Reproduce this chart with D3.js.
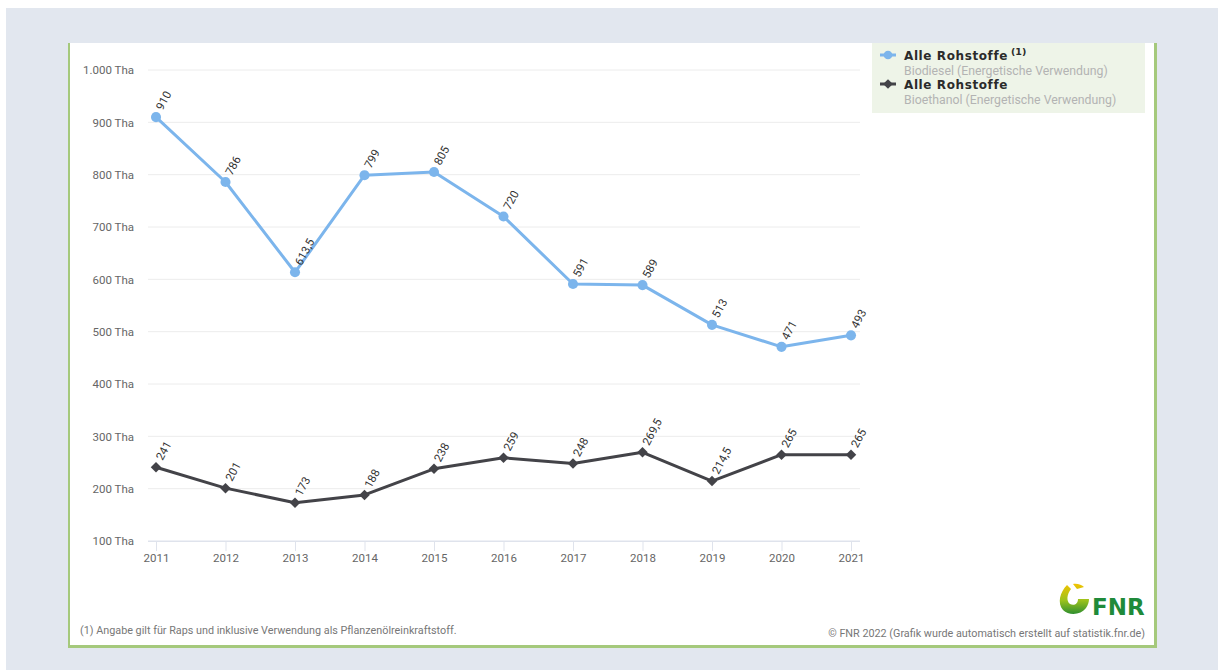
<!DOCTYPE html>
<html>
<head>
<meta charset="utf-8">
<script src="https://cdn.jsdelivr.net/npm/d3@7"></script>
<style>
  html, body { margin: 0; padding: 0; background: #ffffff; }
  svg { display: block; }
</style>
</head>
<body>
<svg id="chart" width="1218" height="670"></svg>
<script>
// Years on the category axis
const years = ["2011","2012","2013","2014","2015","2016","2017","2018","2019","2020","2021"];
// Biodiesel, all raw materials (thousand hectares)
const biodiesel = [910, 786, 613.5, 799, 805, 720, 591, 589, 513, 471, 493];
// Bioethanol, all raw materials (thousand hectares)
const bioethanol = [241, 201, 173, 188, 238, 259, 248, 269.5, 214.5, 265, 265];
// Y-axis tick values
const yTicks = [100, 200, 300, 400, 500, 600, 700, 800, 900, 1000];

const svg = d3.select("#chart");
const W = 1218, H = 670;

// page frame
svg.append("rect").attr("x", 6).attr("y", 8).attr("width", W - 6).attr("height", H - 8).attr("fill", "#e2e7ef");
// card
svg.append("rect").attr("x", 68).attr("y", 43).attr("width", 1089).attr("height", 605).attr("fill", "#ffffff");
svg.append("rect").attr("x", 68).attr("y", 43).attr("width", 2).attr("height", 605).attr("fill", "#a5c97c");
svg.append("rect").attr("x", 1154).attr("y", 43).attr("width", 3).attr("height", 605).attr("fill", "#a5c97c");
svg.append("rect").attr("x", 68).attr("y", 645).attr("width", 1089).attr("height", 3).attr("fill", "#a5c97c");

const de = d3.formatLocale({ decimal: ",", thousands: ".", grouping: [3], currency: ["", "€"] });
const fmtTick = de.format(",");
const fmtVal = v => de.format(",")(v);

const x = d3.scalePoint().domain(years).range([156, 851]);
const y = d3.scaleLinear().domain([100, 1000]).range([541, 70]);

const font = "Roboto, 'Open Sans', sans-serif";

// grid lines
svg.append("g").selectAll("line").data(yTicks).join("line")
  .attr("x1", 148).attr("x2", 860)
  .attr("y1", d => y(d)).attr("y2", d => y(d))
  .attr("stroke", d => d === 100 ? "#dfe3ec" : "#ececec").attr("stroke-width", 1);

// y axis labels
const yAxis = d3.axisLeft(y).tickValues(yTicks).tickSize(0).tickPadding(0)
  .tickFormat(d => fmtTick(d) + " Tha");
svg.append("g").attr("transform", "translate(134,0)").call(yAxis)
  .call(g => g.select(".domain").remove())
  .call(g => g.selectAll("text").attr("fill", "#666").attr("font-family", font).attr("font-size", 11.5));

// x axis with tick marks under each year
const xAxis = d3.axisBottom(x).tickSize(10).tickPadding(3);
svg.append("g").attr("transform", "translate(0,541)").call(xAxis)
  .call(g => g.select(".domain").attr("d", "M148,0.5H860").attr("stroke", "#dfe3ec"))
  .call(g => g.selectAll(".tick line").attr("stroke", "#dfe3ec"))
  .call(g => g.selectAll("text").attr("fill", "#666").attr("font-family", font).attr("font-size", 11.5));

const line = d3.line().x((d, i) => x(years[i])).y(d => y(d));

function drawSeries(values, color, marker) {
  const g = svg.append("g");
  g.append("path").datum(values).attr("d", line)
    .attr("fill", "none").attr("stroke", color).attr("stroke-width", 3)
    .attr("stroke-linejoin", "round");
  const sym = d3.symbol().type(marker === "circle" ? d3.symbolCircle : d3.symbolDiamond2)
    .size(marker === "circle" ? 80 : 70);
  g.selectAll("path.m").data(values).join("path").attr("class", "m")
    .attr("d", sym)
    .attr("transform", (d, i) => `translate(${x(years[i])},${y(d)})`)
    .attr("fill", color);
  g.selectAll("text").data(values).join("text")
    .attr("transform", (d, i) => `translate(${x(years[i]) + 3},${y(d) - 8}) rotate(-62)`)
    .attr("font-family", font).attr("font-size", 11.5).attr("fill", "#333")
    .attr("text-anchor", "start").attr("dy", "0.35em")
    .text(d => fmtVal(d));
}
drawSeries(biodiesel, "#7cb5ec", "circle");
drawSeries(bioethanol, "#434348", "diamond");

// legend
const lg = svg.append("g");
lg.append("rect").attr("x", 872).attr("y", 43).attr("width", 273).attr("height", 70).attr("fill", "#eef4e8");
const legendItems = [
  { color: "#7cb5ec", marker: "circle", title: "Alle Rohstoffe", sup: "(1)", sub: "Biodiesel (Energetische Verwendung)", y: 55 },
  { color: "#434348", marker: "diamond", title: "Alle Rohstoffe", sup: "", sub: "Bioethanol (Energetische Verwendung)", y: 84 }
];
legendItems.forEach(it => {
  lg.append("line").attr("x1", 880).attr("x2", 896).attr("y1", it.y).attr("y2", it.y)
    .attr("stroke", it.color).attr("stroke-width", 3);
  lg.append("path").attr("d", d3.symbol().type(it.marker === "circle" ? d3.symbolCircle : d3.symbolDiamond2).size(60))
    .attr("transform", `translate(888,${it.y})`).attr("fill", it.color);
  lg.append("text").attr("x", 904).attr("y", it.y + 4.5)
    .attr("font-family", "'DejaVu Sans', sans-serif").attr("font-weight", 700)
    .attr("font-size", 12).attr("letter-spacing", 0.6).attr("fill", "#2b2b2b").text(it.title);
  if (it.sup) {
    lg.append("text").attr("x", 1011).attr("y", it.y - 0.5)
      .attr("font-family", "'DejaVu Sans', sans-serif").attr("font-weight", 700)
      .attr("font-size", 9.5).attr("fill", "#2b2b2b").text(it.sup);
  }
  lg.append("text").attr("x", 904).attr("y", it.y + 20)
    .attr("font-family", font).attr("font-size", 12.3).attr("fill", "#b3b3b3").text(it.sub);
});

// footnote and credits
svg.append("text").attr("x", 80).attr("y", 634)
  .attr("font-family", font).attr("font-size", 10.8).attr("fill", "#777")
  .text("(1) Angabe gilt für Raps und inklusive Verwendung als Pflanzenölreinkraftstoff.");
svg.append("text").attr("x", 1145).attr("y", 637).attr("text-anchor", "end")
  .attr("font-family", font).attr("font-size", 10.8).attr("fill", "#777")
  .text("© FNR 2022 (Grafik wurde automatisch erstellt auf statistik.fnr.de)");

// FNR logo
const defs = svg.append("defs");
const grad = defs.append("linearGradient").attr("id", "logoGrad").attr("x1", 0).attr("y1", 0).attr("x2", 0).attr("y2", 1);
grad.append("stop").attr("offset", "0%").attr("stop-color", "#f3c300");
grad.append("stop").attr("offset", "55%").attr("stop-color", "#9cc21c");
grad.append("stop").attr("offset", "100%").attr("stop-color", "#2f8f2f");
const logo = svg.append("g").attr("transform", "translate(1058,584)");
logo.append("path")
  .attr("d", "M9,1 C2,8 -1,19 5,26 C11,32 23,31 28,24 C30,21 31,18 31,15 L20,15 C20,20 16,22 12,20 C8,17 9,10 13,5 Z M15,0 C19,-1 24,1 26,3 L19,5 Z")
  .attr("fill", "url(#logoGrad)");
logo.append("text").attr("x", 34).attr("y", 31)
  .attr("font-family", "'DejaVu Sans', sans-serif").attr("font-weight", 700).attr("font-size", 23)
  .attr("fill", "#1f8a3a").text("FNR");
</script>
</body>
</html>
